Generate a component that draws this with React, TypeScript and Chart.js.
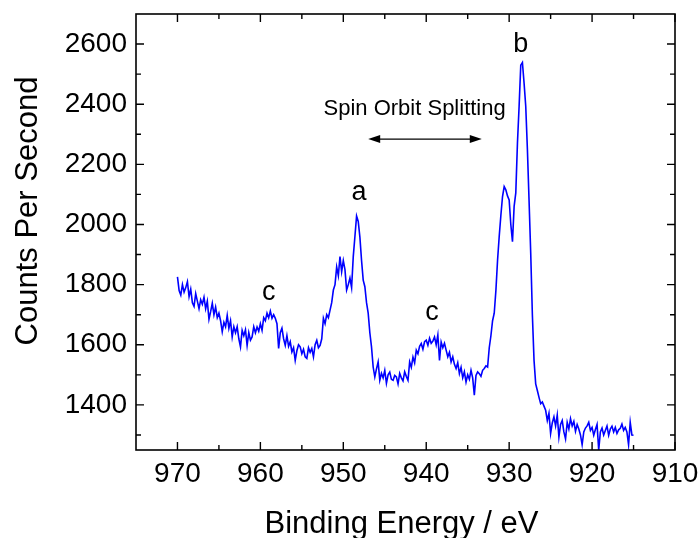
import React, { useEffect, useRef } from "react";
import { Chart, registerables } from "chart.js";

Chart.register(...registerables);

// Spectrum sampling (binding energy grid) and counts per second
const ENERGY_START = 970;
const ENERGY_STEP = 0.2;
const COUNTS = [
  1826, 1780, 1765, 1800, 1775,
  1790, 1810, 1760, 1785, 1740,
  1728, 1770, 1745, 1720, 1750,
  1735, 1758, 1720, 1745, 1685,
  1710, 1738, 1700, 1725, 1690,
  1705, 1680, 1643, 1675, 1660,
  1698, 1655, 1680, 1626, 1660,
  1640, 1660, 1620, 1593, 1648,
  1630, 1650, 1598, 1640, 1615,
  1626, 1660, 1640, 1659, 1645,
  1670, 1648, 1690, 1680, 1705,
  1690, 1712, 1688, 1700, 1688,
  1670, 1588, 1640, 1655, 1620,
  1598, 1630, 1595, 1610, 1576,
  1590, 1548, 1580, 1600, 1593,
  1570, 1585, 1560, 1555, 1590,
  1575, 1588, 1560, 1600, 1615,
  1590, 1598, 1620, 1688, 1670,
  1700, 1690, 1715, 1740, 1782,
  1800, 1859, 1830, 1893, 1843,
  1880, 1850, 1782, 1800, 1822,
  1790, 1893, 1960, 2028, 2010,
  1958, 1880, 1815, 1793, 1740,
  1705, 1640, 1593, 1526, 1493,
  1520, 1543, 1482, 1505, 1490,
  1515, 1472, 1500, 1509, 1485,
  1482, 1498, 1493, 1470, 1505,
  1490, 1480, 1510, 1495, 1482,
  1543, 1525, 1559, 1540, 1582,
  1570, 1595, 1604, 1585, 1610,
  1615, 1598, 1622, 1605, 1612,
  1626, 1600, 1632, 1548, 1609,
  1590, 1605, 1582, 1560, 1575,
  1543, 1560, 1535, 1521, 1540,
  1504, 1525, 1490, 1510, 1476,
  1500, 1485, 1515, 1490, 1432,
  1498, 1510, 1504, 1495, 1515,
  1521, 1530, 1526, 1590, 1630,
  1680, 1705, 1780, 1880, 1960,
  2030, 2093, 2126, 2115, 2095,
  2082, 2000, 1943, 2060, 2105,
  2270, 2393, 2530, 2539, 2470,
  2393, 2250, 2080, 1905, 1700,
  1548, 1470, 1448, 1425, 1404,
  1410, 1396, 1382, 1348, 1372,
  1305, 1340, 1360, 1330, 1366,
  1293, 1335, 1348, 1310, 1287,
  1342, 1320, 1354, 1330, 1345,
  1312, 1335, 1320, 1300, 1268,
  1310, 1323, 1330, 1342, 1315,
  1325, 1299, 1318, 1335, 1250,
  1310, 1323, 1300, 1315, 1330,
  1299, 1320, 1329, 1310, 1325,
  1305, 1317, 1322, 1336, 1315,
  1325, 1310, 1268, 1342, 1300,
  1299,
];

const X_MAJOR = [970, 960, 950, 940, 930, 920, 910];
const X_MINOR = [965, 955, 945, 935, 925, 915];
const Y_MAJOR = [1400, 1600, 1800, 2000, 2200, 2400, 2600];
const Y_MINOR = [1300, 1500, 1700, 1900, 2100, 2300, 2500];

const X_TITLE = "Binding Energy / eV";
const Y_TITLE = "Counts Per Second";

const PEAK_LABELS = ["a", "b", "c", "c"];
const PEAK_LABEL_EV = [948.1, 928.6, 959.0, 939.3];
const PEAK_LABEL_CPS = [2082, 2575, 1748, 1682];

const SPLIT_TEXT = "Spin Orbit Splitting";
const SPLIT_TEXT_EV = 941.4;
const SPLIT_TEXT_CPS = 2365;
const SPLIT_ARROW_EV = [947.0, 933.3];
const SPLIT_ARROW_CPS = 2284;

const FONT = '"Liberation Sans", Arial, Helvetica, sans-serif';

const framePlugin = {
  id: "framePlugin",
  afterDraw(chart: any) {
    const { ctx, chartArea } = chart;
    const xs = chart.scales.x;
    const ys = chart.scales.y;
    const { left, right, top, bottom } = chartArea;
    ctx.save();
    ctx.strokeStyle = "#000";
    ctx.lineWidth = 1.6;
    ctx.strokeRect(left, top, right - left, bottom - top);

    const major = 8;
    const minor = 5;
    ctx.lineWidth = 1.4;
    ctx.beginPath();
    const xt = (v: number, len: number) => {
      const p = xs.getPixelForValue(v);
      ctx.moveTo(p, bottom);
      ctx.lineTo(p, bottom - len);
      ctx.moveTo(p, top);
      ctx.lineTo(p, top + len);
    };
    const yt = (v: number, len: number) => {
      const p = ys.getPixelForValue(v);
      ctx.moveTo(left, p);
      ctx.lineTo(left + len, p);
      ctx.moveTo(right, p);
      ctx.lineTo(right - len, p);
    };
    X_MAJOR.forEach((v) => xt(v, major));
    X_MINOR.forEach((v) => xt(v, minor));
    Y_MAJOR.forEach((v) => yt(v, major));
    Y_MINOR.forEach((v) => yt(v, minor));
    ctx.stroke();

    // Peak labels
    ctx.fillStyle = "#000";
    ctx.textAlign = "center";
    ctx.textBaseline = "alphabetic";
    ctx.font = `27px ${FONT}`;
    PEAK_LABELS.forEach((t, i) => {
      ctx.fillText(t, xs.getPixelForValue(PEAK_LABEL_EV[i]), ys.getPixelForValue(PEAK_LABEL_CPS[i]));
    });

    // Spin orbit splitting annotation
    ctx.font = `22px ${FONT}`;
    ctx.fillText(SPLIT_TEXT, xs.getPixelForValue(SPLIT_TEXT_EV), ys.getPixelForValue(SPLIT_TEXT_CPS));
    const ax1 = xs.getPixelForValue(SPLIT_ARROW_EV[0]);
    const ax2 = xs.getPixelForValue(SPLIT_ARROW_EV[1]);
    const ay = ys.getPixelForValue(SPLIT_ARROW_CPS);
    const hl = 12;
    const hw = 4;
    ctx.lineWidth = 1.2;
    ctx.beginPath();
    ctx.moveTo(ax1 + hl - 2, ay);
    ctx.lineTo(ax2 - hl + 2, ay);
    ctx.stroke();
    ctx.beginPath();
    ctx.moveTo(ax1, ay);
    ctx.lineTo(ax1 + hl, ay - hw);
    ctx.lineTo(ax1 + hl, ay + hw);
    ctx.closePath();
    ctx.moveTo(ax2, ay);
    ctx.lineTo(ax2 - hl, ay - hw);
    ctx.lineTo(ax2 - hl, ay + hw);
    ctx.closePath();
    ctx.fill();

    // Axis titles
    ctx.font = `31px ${FONT}`;
    ctx.textAlign = "center";
    ctx.fillText(X_TITLE, (left + right) / 2 - 4, bottom + 83);
    ctx.save();
    ctx.translate(left - 99, top + 197);
    ctx.rotate(-Math.PI / 2);
    ctx.fillText(Y_TITLE, 0, 0);
    ctx.restore();
    ctx.restore();
  },
};

export default function App() {
  const ref = useRef<HTMLCanvasElement | null>(null);
  useEffect(() => {
    if (!ref.current) return;
    const points = COUNTS.map((c, i) => ({
      x: +(ENERGY_START - i * ENERGY_STEP).toFixed(1),
      y: c,
    }));
    const chart = new Chart(ref.current, {
      type: "line",
      data: {
        datasets: [
          {
            data: points,
            borderColor: "#0000ff",
            borderWidth: 1.6,
            pointRadius: 0,
            tension: 0,
            fill: false,
          },
        ],
      },
      options: {
        animation: false,
        responsive: false,
        devicePixelRatio: 1,
        events: [],
        layout: { padding: { top: 14, right: 25, left: 0, bottom: 0 } },
        plugins: { legend: { display: false }, tooltip: { enabled: false } },
        scales: {
          x: {
            type: "linear",
            reverse: true,
            min: 910,
            max: 975,
            afterBuildTicks: (s: any) => {
              s.ticks = X_MAJOR.map((v) => ({ value: v }));
            },
            afterFit: (s: any) => {
              s.height = 88;
              s.paddingLeft = 0;
              s.paddingRight = 0;
              s.paddingTop = 0;
              s.paddingBottom = 0;
            },
            grid: { display: false, drawTicks: false },
            border: { display: false },
            ticks: {
              color: "#000",
              font: { family: FONT, size: 28 },
              padding: 7,
              maxRotation: 0,
              autoSkip: false,
              callback: (v: any) => String(v),
            },
          },
          y: {
            type: "linear",
            min: 1250,
            max: 2700,
            afterBuildTicks: (s: any) => {
              s.ticks = Y_MAJOR.map((v) => ({ value: v }));
            },
            afterFit: (s: any) => {
              s.width = 136;
              s.paddingLeft = 0;
              s.paddingRight = 0;
              s.paddingTop = 0;
              s.paddingBottom = 0;
            },
            grid: { display: false, drawTicks: false },
            border: { display: false },
            ticks: {
              color: "#000",
              font: { family: FONT, size: 28 },
              padding: 9,
              autoSkip: false,
              callback: (v: any) => String(v),
            },
          },
        },
      },
      plugins: [framePlugin],
    } as any);
    return () => chart.destroy();
  }, []);
  return (
    <div style={{ position: "absolute", left: 0, top: 0, width: 700, height: 538, background: "#fff" }}>
      <canvas ref={ref} width={700} height={538} style={{ display: "block" }} />
    </div>
  );
}
